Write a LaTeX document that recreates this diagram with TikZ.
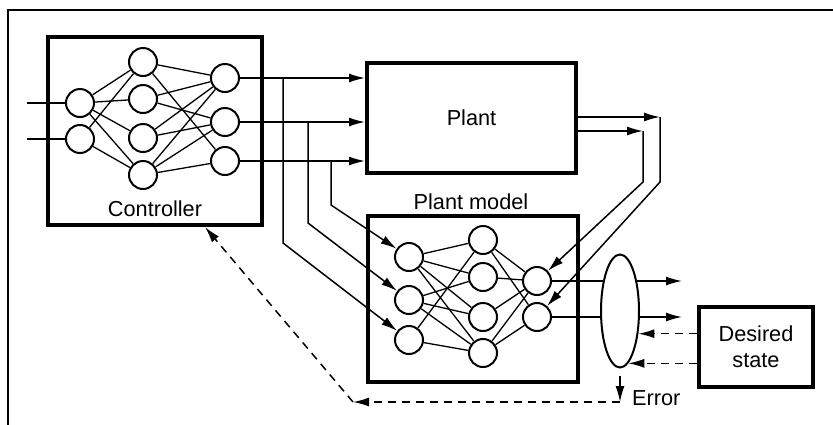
\documentclass[tikz,border=0pt]{standalone}
\usepackage{fontspec}
\setmainfont{Liberation Sans}
\usepackage{tikz}
\usetikzlibrary{shapes}
\usetikzlibrary{arrows.meta}

\begin{document}
\begin{tikzpicture}[x=1pt,y=-1pt]
\tikzstyle{every node}=[font=\fontsize{21.7pt}{26pt}\selectfont]
\tikzstyle{neuron}=[draw,circle,line width=2pt,minimum size=28pt,inner sep=0pt]
\tikzstyle{block}=[draw,line width=4pt,inner sep=0pt]
\tikzstyle{wire}=[line width=1.3pt]
\tikzstyle{feed}=[line width=1.5pt,-{Latex[length=16pt,width=9pt]}]
\tikzstyle{fback}=[feed,dash pattern=on 8pt off 6pt]

\useasboundingbox (0,0) rectangle (833,424);
\draw[line width=2pt] (8,430) -- (8,10) -- (840,10);

% controller network
\node[block,minimum width=214pt,minimum height=188pt] (ctrl) at (155,131) {};
\node (ctrltext) at (155,209) {Controller};

\node[neuron] (ci1) at (80,103) {};
\node[neuron] (ci2) at (80,139) {};
\node[neuron] (ch1) at (143,62) {};
\node[neuron] (ch2) at (143,99) {};
\node[neuron] (ch3) at (143,138) {};
\node[neuron] (ch4) at (143,175) {};
\node[neuron] (co1) at (225,78) {};
\node[neuron] (co2) at (225,122) {};
\node[neuron] (co3) at (225,161) {};

\coordinate (u1) at (27,103);
\coordinate (u2) at (27,139);
\draw[wire] (u1) -- (ci1);
\draw[wire] (u2) -- (ci2);

\draw[wire] (ci1) -- (ch1);
\draw[wire] (ci1) -- (ch2);
\draw[wire] (ci1) -- (ch3);
\draw[wire] (ci1) -- (ch4);
\draw[wire] (ci2) -- (ch1);
\draw[wire] (ci2) -- (ch4);
\draw[wire] (ch1) -- (co1);
\draw[wire] (ch1) -- (co3);
\draw[wire] (ch2) -- (co1);
\draw[wire] (ch2) -- (co2);
\draw[wire] (ch3) -- (co1);
\draw[wire] (ch3) -- (co2);
\draw[wire] (ch4) -- (co1);
\draw[wire] (ch4) -- (co2);
\draw[wire] (ch4) -- (co3);

% plant and plant model
\node[block,minimum width=209pt,minimum height=110pt] (plant) at (471.5,118) {Plant};
\node[block,minimum width=210pt,minimum height=166pt] (model) at (473,299) {};
\node (modeltext) at (471,202) {Plant model};

\node[neuron] (pi1) at (409,257) {};
\node[neuron] (pi2) at (409,300) {};
\node[neuron] (pi3) at (409,340) {};
\node[neuron] (ph1) at (483,240) {};
\node[neuron] (ph2) at (483,277) {};
\node[neuron] (ph3) at (483,317) {};
\node[neuron] (ph4) at (483,353) {};
\node[neuron] (po1) at (537,281) {};
\node[neuron] (po2) at (537,317) {};

\draw[wire] (pi1) -- (ph1);
\draw[wire] (pi1) -- (ph2);
\draw[wire] (pi1) -- (ph3);
\draw[wire] (pi1) -- (ph4);
\draw[wire] (pi2) -- (ph2);
\draw[wire] (pi2) -- (ph3);
\draw[wire] (pi2) -- (ph4);
\draw[wire] (pi3) -- (ph1);
\draw[wire] (pi3) -- (ph4);
\draw[wire] (ph1) -- (po1);
\draw[wire] (ph1) -- (po2);
\draw[wire] (ph2) -- (po1);
\draw[wire] (ph3) -- (po1);
\draw[wire] (ph4) -- (po1);
\draw[wire] (ph4) -- (po2);

% controller outputs
\draw[feed] (co1) -- (co1 -| plant.west);
\draw[feed] (co2) -- (co2 -| plant.west);
\draw[feed] (co3) -- (co3 -| plant.west);

\coordinate (k1) at (283,243);
\coordinate (k2) at (308,223);
\coordinate (k3) at (331,205);
\draw[feed] (k1 |- co1) -- (k1) -- (pi3);
\draw[feed] (k2 |- co2) -- (k2) -- (pi2);
\draw[feed] (k3 |- co3) -- (k3) -- (pi1);

% plant outputs
\coordinate (r1) at (660,117);
\coordinate (r2) at (660,182);
\coordinate (l1) at (643,131);
\coordinate (l2) at (643,182);
\draw[feed] (plant.east |- r1) -- (r1);
\draw[feed] (r1) -- (r2) -- (po2);
\draw[feed] (plant.east |- l1) -- (l1);
\draw[feed] (l1) -- (l2) -- (po1);

% model outputs and error
\coordinate (v1) at (682,281);
\coordinate (v2) at (682,317);
\draw[feed] (po1) -- (v1);
\draw[feed] (po2) -- (v2);
\node[draw,ellipse,fill=white,line width=2pt,minimum width=38pt,minimum height=113pt,inner sep=0pt] (err) at (620,311) {};

\node[block,line width=3.5pt,minimum width=114pt,minimum height=80pt,align=center] (goal) at (756,347) {Desired\\state};
\draw[fback] (goal.west |- err.-51.5) -- (err.-51.5);
\draw[fback] (goal.west |- err.-81) -- (err.-81);

\coordinate (e1) at (620,402);
\coordinate (e2) at (353,402);
\draw[feed] ([yshift=-7pt]err.south) -- (e1);
\node[anchor=west,inner sep=0pt] (errtext) at (632,398) {Error};
\draw[fback] (e1) -- (e2);
\draw[fback] (e2) -- ([xshift=50pt]ctrl.south);
\end{tikzpicture}
\end{document}
